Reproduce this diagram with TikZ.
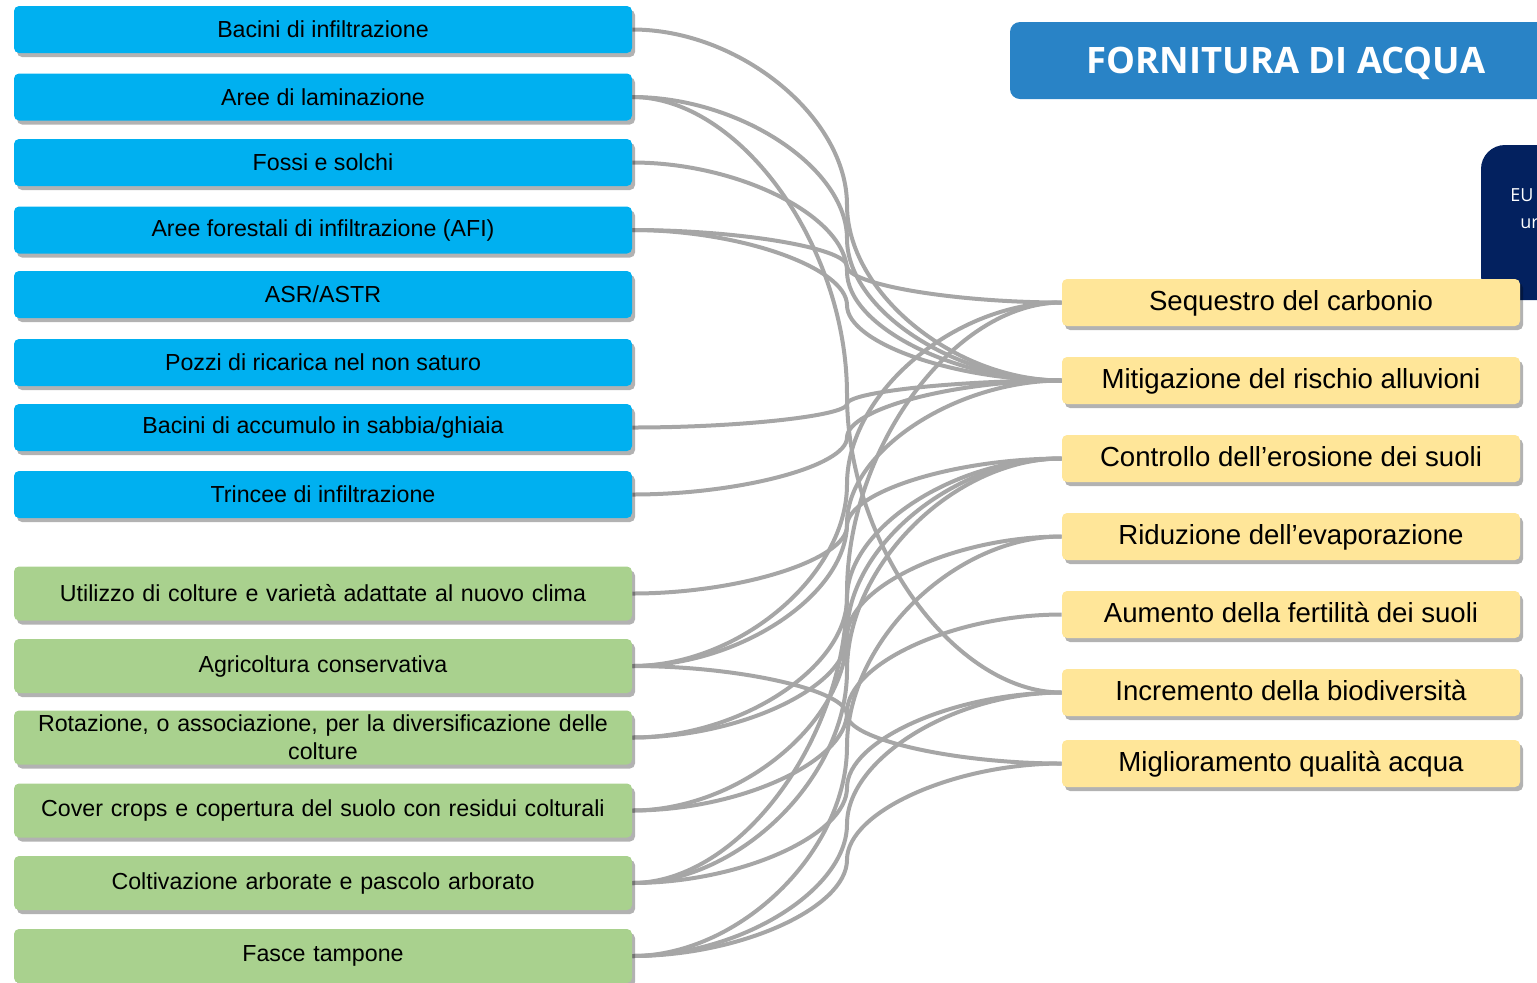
\documentclass[tikz,border=0pt]{standalone}
\usepackage{fontspec}
\setmainfont{Liberation Sans}
\newfontfamily\titlefont{Open Sans}
\usetikzlibrary{calc,shadows,backgrounds}
\definecolor{bluebox}{HTML}{00B0F0}
\definecolor{greenbox}{HTML}{A9D18E}
\definecolor{yellowbox}{HTML}{FFE699}
\definecolor{titleblue}{HTML}{2983C6}
\definecolor{navy}{HTML}{03215F}
\definecolor{linegray}{HTML}{A6A6A6}
\tikzset{
  boxbase/.style={rounded corners=2.5pt, inner sep=1pt, align=center, text=black,
    drop shadow={shadow xshift=1.5pt, shadow yshift=-2pt, opacity=0.3, fill=black}},
  bluenode/.style={boxbase, fill=bluebox, minimum width=309pt, minimum height=23.5pt, font=\fontsize{11.6}{13.5}\selectfont},
  greennode/.style={boxbase, fill=greenbox, minimum width=309pt, minimum height=27pt, font=\fontsize{11.6}{14}\selectfont, text width=302pt},
  yellownode/.style={boxbase, fill=yellowbox, minimum width=229pt, minimum height=23.5pt, font=\fontsize{13.8}{16}\selectfont, text height=1.6ex, text depth=0.1ex},
  conn/.style={draw=linegray, line width=2pt},
  sidetext/.style={font=\titlefont\fontsize{9}{11}\selectfont, text=white, anchor=west, inner sep=0pt},
}
\newcommand{\conn}[2]{\draw[conn] let \p1=(#1.east), \p2=(#2.west) in
  (\p1) .. controls ({0.75*\x1+0.25*\x2},\y1) and ({0.5*\x1+0.5*\x2},{0.75*\y1+0.25*\y2}) ..
  ({0.5*\x1+0.5*\x2},{0.5*\y1+0.5*\y2}) .. controls ({0.5*\x1+0.5*\x2},{0.25*\y1+0.75*\y2}) and ({0.25*\x1+0.75*\x2},\y2) .. (\p2);}
\begin{document}
\begin{tikzpicture}[x=0.5pt,y=-0.5pt]
\useasboundingbox (0,0) rectangle (1537,982);
\begin{scope}
\clip (0,0) rectangle (1537,982);
\fill[titleblue, rounded corners=5pt] (1010,22) rectangle (1580,99);
\node[font=\titlefont\bfseries\fontsize{18.2}{20}\selectfont, text=white] (title) at (1286,63) {FORNITURA DI ACQUA};
\fill[navy, rounded corners=12pt] (1481,145) rectangle (1600,300);
\node[sidetext] (eu) at (1510,195) {EU};
\node[sidetext] (ur) at (1520,224) {ur};
\node[bluenode] (b1) at (323,29.5) {Bacini di infiltrazione};
\node[bluenode] (b2) at (323,97) {Aree di laminazione};
\node[bluenode] (b3) at (323,162.5) {Fossi e solchi};
\node[bluenode] (b4) at (323,230) {Aree forestali di infiltrazione (AFI)};
\node[bluenode] (b5) at (323,294.5) {ASR/ASTR};
\node[bluenode] (b6) at (323,362.5) {Pozzi di ricarica nel non saturo};
\node[bluenode] (b7) at (323,427.5) {Bacini di accumulo in sabbia/ghiaia};
\node[bluenode] (b8) at (323,494.5) {Trincee di infiltrazione};
\node[greennode] (g1) at (323,593.5) {Utilizzo di colture e variet\`a adattate al nuovo clima};
\node[greennode] (g2) at (323,666) {Agricoltura conservativa};
\node[greennode] (g3) at (323,737.5) {Rotazione, o associazione, per la diversificazione delle\\colture};
\node[greennode] (g4) at (323,810.5) {Cover crops e copertura del suolo con residui colturali};
\node[greennode] (g5) at (323,883) {Coltivazione arborate e pascolo arborato};
\node[greennode] (g6) at (323,956) {Fasce tampone};
\node[yellownode] (r1) at (1291,302.5) {Sequestro del carbonio};
\node[yellownode] (r2) at (1291,380.5) {Mitigazione del rischio alluvioni};
\node[yellownode] (r3) at (1291,458.5) {Controllo dell’erosione dei suoli};
\node[yellownode] (r4) at (1291,536.5) {Riduzione dell’evaporazione};
\node[yellownode] (r5) at (1291,614.5) {Aumento della fertilità dei suoli};
\node[yellownode] (r6) at (1291,692.5) {Incremento della biodiversità};
\node[yellownode] (r7) at (1291,763.5) {Miglioramento qualità acqua};
\end{scope}
\begin{pgfonlayer}{background}
\conn{b1}{r2}
\conn{b2}{r2}
\conn{b2}{r6}
\conn{b3}{r2}
\conn{b4}{r1}
\conn{b4}{r2}
\conn{b7}{r2}
\conn{b8}{r2}
\conn{g1}{r3}
\conn{g2}{r1}
\conn{g2}{r2}
\conn{g2}{r7}
\conn{g3}{r3}
\conn{g3}{r4}
\conn{g4}{r3}
\conn{g4}{r5}
\conn{g5}{r1}
\conn{g5}{r3}
\conn{g5}{r6}
\conn{g6}{r4}
\conn{g6}{r6}
\conn{g6}{r7}
\end{pgfonlayer}
\end{tikzpicture}
\end{document}
